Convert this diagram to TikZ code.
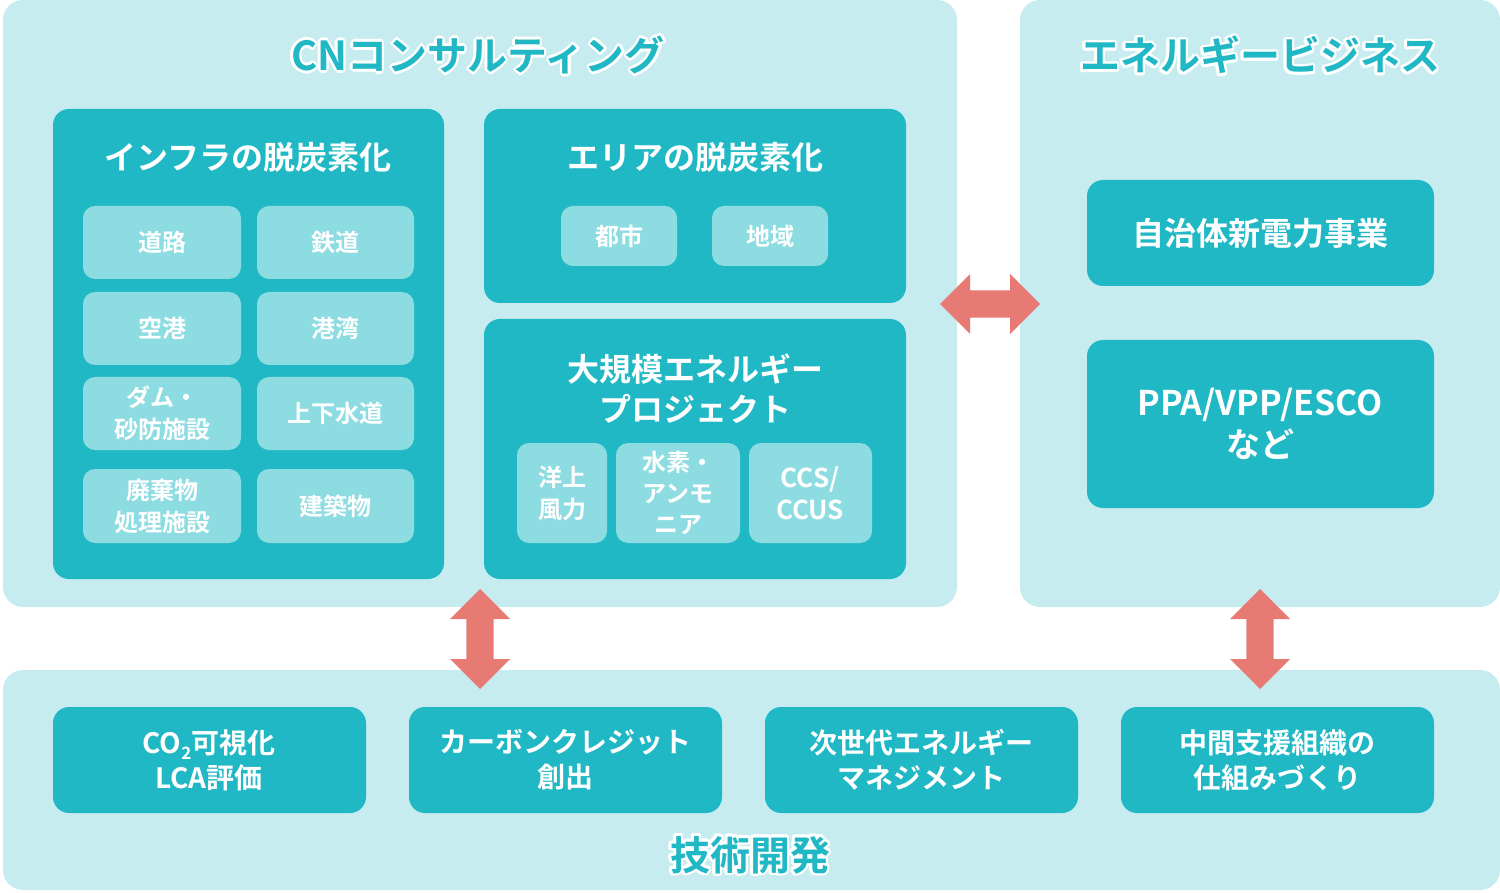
\documentclass[tikz,border=0pt]{standalone}
\usepackage{fontspec}
\setmainfont{Noto Sans CJK JP Bold}
\usetikzlibrary{shapes.arrows,calc}
\definecolor{pale}{HTML}{C6ECF0}
\definecolor{teal}{HTML}{21B8C5}
\definecolor{lite}{HTML}{8DDCE2}
\definecolor{arr}{HTML}{E87A74}
\newcommand{\outl}[4]{% name, pos, size, text
 \foreach \a in {0,30,...,330}{\node[text=white,font=\fontsize{#3}{#3}\selectfont] at ($(#2)+(\a:2.6)$) {#4};}
 \node[text=teal,font=\fontsize{#3}{#3}\selectfont] (#1) at (#2) {#4};}
\begin{document}
\begin{tikzpicture}[x=1pt,y=-1pt,
 panel/.style={fill=pale,rounded corners=20pt},
 dbox/.style={fill=teal,rounded corners=16pt},
 sbox/.style={fill=lite,rounded corners=12pt},
 wt/.style 2 args={text=white,align=center,inner sep=0pt,font=\fontsize{#1}{#2}\selectfont},
 darr/.style={double arrow,fill=arr,inner xsep=0pt,inner ysep=13pt,minimum width=60pt,double arrow head extend=16pt,minimum height=100pt}]
\useasboundingbox (0,0) rectangle (1500,893);
\fill[panel] (3,0) rectangle (957,607);
\fill[panel] (1020,0) rectangle (1500,607);
\fill[panel] (3,670) rectangle (1500,890);
\outl{p1}{478,55}{40}{CNコンサルティング}
\outl{p2}{1260,55}{40}{エネルギービジネス}
\outl{p3}{750,855}{40}{技術開発}
% infra
\fill[dbox] (53,109) rectangle (444,579);
\node[wt={32}{40}] (t1) at (248,157) {インフラの脱炭素化};
\foreach \r/\ya/\yb/\ta/\tb in {1/206/279/道路/鉄道,2/292/365/空港/港湾,3/377/450/{ダム・\\砂防施設}/上下水道,4/469/543/{廃棄物\\処理施設}/建築物}{
 \fill[sbox] (83,\ya) rectangle (241,\yb);
 \fill[sbox] (257,\ya) rectangle (414,\yb);
 \node[wt={24}{32}] (a\r) at (162,{(\ya+\yb)/2}) {\ta};
 \node[wt={24}{32}] (b\r) at (335,{(\ya+\yb)/2}) {\tb};
}
% area
\fill[dbox] (484,109) rectangle (906,303);
\node[wt={32}{40}] (t2) at (695,157) {エリアの脱炭素化};
\fill[sbox] (561,206) rectangle (677,266); \node[wt={24}{30}] (c1) at (619,236) {都市};
\fill[sbox] (712,206) rectangle (828,266); \node[wt={24}{30}] (c2) at (770,236) {地域};
% large
\fill[dbox] (484,319) rectangle (906,579);
\node[wt={32}{40}] (t3) at (695,389) {大規模エネルギー\\プロジェクト};
\fill[sbox] (517,443) rectangle (607,543); \node[wt={24}{32}] (d1) at (562,493) {洋上\\風力};
\fill[sbox] (616,443) rectangle (740,543); \node[wt={24}{31}] (d2) at (678,493) {水素・\\アンモ\\ニア};
\fill[sbox] (749,443) rectangle (872,543); \node[wt={26}{32}] (d3) at (810,493) {CCS/\\CCUS};
% energy
\fill[dbox] (1087,180) rectangle (1434,286); \node[wt={32}{40}] (e1) at (1260,233) {自治体新電力事業};
\fill[dbox] (1087,340) rectangle (1434,508); \node[wt={34}{42}] (e2) at (1260,424) {PPA/VPP/ESCO\\など};
% bottom
\foreach \i/\x/\t in {1/53/{CO\raisebox{-0.22em}{\fontsize{17}{17}\selectfont 2}可視化\\LCA評価},2/409/{カーボンクレジット\\創出},3/765/{次世代エネルギー\\マネジメント},4/1121/{中間支援組織の\\仕組みづくり}}{
 \fill[dbox] (\x,707) rectangle ({\x+313},813);
 \node[wt={28}{35}] (f\i) at ({\x+156},760) {\t};
}
% arrows
\node[darr] (h) at (990,304) {};
\node[darr,rotate=90] (v1) at (480,639) {};
\node[darr,rotate=90] (v2) at (1260,639) {};
\end{tikzpicture}
\end{document}
